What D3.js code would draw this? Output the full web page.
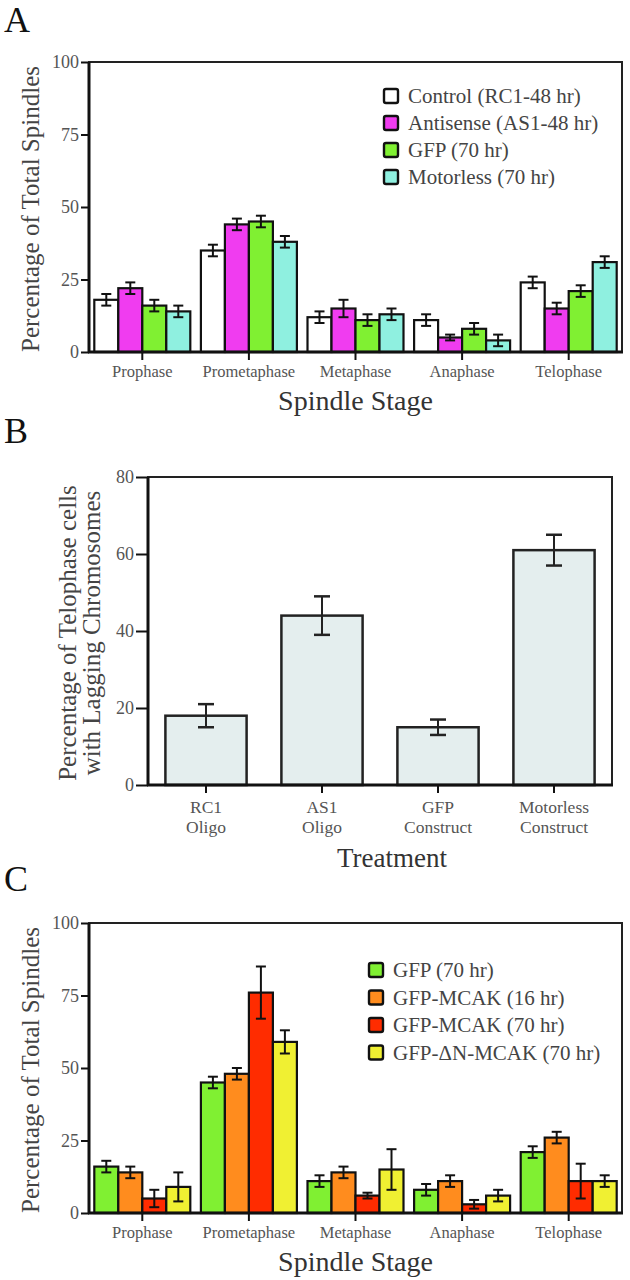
<!DOCTYPE html>
<html>
<head>
<meta charset="utf-8">
<script src="https://cdn.jsdelivr.net/npm/d3@7"></script>
<style>
  html, body { margin: 0; padding: 0; background: #fff; }
  svg { display: block; }
</style>
</head>
<body>
<svg id="chart" width="630" height="1280"></svg>
<script>
// ---------- DATA ----------
// Panel A
const stagesA = ["Prophase", "Prometaphase", "Metaphase", "Anaphase", "Telophase"];
const seriesA = ["Control (RC1-48 hr)", "Antisense (AS1-48 hr)", "GFP (70 hr)", "Motorless (70 hr)"];
const controlA = [18, 35, 12, 11, 24];
const controlErrA = [2, 2, 2, 2, 2];
const antisenseA = [22, 44, 15, 5, 15];
const antisenseErrA = [2, 2, 3, 1, 2];
const gfpA = [16, 45, 11, 8, 21];
const gfpErrA = [2, 2, 2, 2, 2];
const motorlessA = [14, 38, 13, 4, 31];
const motorlessErrA = [2, 2, 2, 2, 2];
const ticksA = [0, 25, 50, 75, 100];

// Panel B
const treatmentsB = [["RC1", "Oligo"], ["AS1", "Oligo"], ["GFP", "Construct"], ["Motorless", "Construct"]];
const valuesB = [18, 44, 15, 61];
const errorsB = [3, 5, 2, 4];
const ticksB = [0, 20, 40, 60, 80];

// Panel C
const stagesC = ["Prophase", "Prometaphase", "Metaphase", "Anaphase", "Telophase"];
const seriesC = ["GFP (70 hr)", "GFP-MCAK (16 hr)", "GFP-MCAK (70 hr)", "GFP-\u0394N-MCAK (70 hr)"];
const gfpC = [16, 45, 11, 8, 21];
const gfpErrC = [2, 2, 2, 2, 2];
const mcak16C = [14, 48, 14, 11, 26];
const mcak16ErrC = [2, 2, 2, 2, 2];
const mcak70C = [5, 76, 6, 3, 11];
const mcak70ErrC = [3, 9, 1, 1.5, 6];
const dnMcakC = [9, 59, 15, 6, 11];
const dnMcakErrC = [5, 4, 7, 2, 2];
const ticksC = [0, 25, 50, 75, 100];

// ---------- STYLE ----------
const colorsA = ["#ffffff", "#f03cf0", "#80f032", "#8ff0e0"];
const colorsC = ["#80f032", "#ff8c1e", "#ff2c00", "#f0f032"];
const fillB = "#e4eeee";
const FONT = "Liberation Serif";

const svg = d3.select("#chart");

function txt(sel) { return sel.style("font-family", FONT); }

function panelTitle(t, x, y) {
  txt(svg.append("text")).attr("x", x).attr("y", y)
    .attr("font-size", 36).style("fill", "#111").text(t);
}

function yAxis(g, y, ticks, x0, tickLen) {
  const ax = d3.axisLeft(y).tickValues(ticks).tickSize(tickLen).tickPadding(2).tickFormat(d3.format("d"));
  const gg = g.append("g").attr("transform", `translate(${x0},0)`).call(ax);
  gg.select(".domain").remove();
  gg.selectAll(".tick line").attr("stroke", "#111").attr("stroke-width", 2);
  txt(gg.selectAll(".tick text")).attr("font-size", 18).style("fill", "#555");
  return gg;
}

function frame(g, x0, x1, y0, y1) {
  g.append("rect").attr("x", x0).attr("y", y0).attr("width", x1 - x0).attr("height", y1 - y0)
    .attr("fill", "none").attr("stroke", "#222").attr("stroke-width", 2);
  g.append("line").attr("x1", x0).attr("x2", x0).attr("y1", y0).attr("y2", y1)
    .attr("stroke", "#111").attr("stroke-width", 3);
  g.append("line").attr("x1", x0 - 1).attr("x2", x1 + 1).attr("y1", y1).attr("y2", y1)
    .attr("stroke", "#111").attr("stroke-width", 3);
}

function groupedPanel(cfg) {
  const g = svg.append("g");
  const x = d3.scaleBand().domain(cfg.stages).range([cfg.x0, cfg.x1]).padding(0);
  const inner = d3.scaleBand().domain(d3.range(cfg.series.length)).range([0, 96]).padding(0);
  const y = d3.scaleLinear().domain([0, 100]).range([cfg.y1, cfg.y0]);

  yAxis(g, y, cfg.ticks, cfg.x0, 8);

  const off = (x.bandwidth() - 96) / 2;
  cfg.vals.forEach((arr, si) => {
    g.selectAll(null).data(cfg.stages).enter().append("rect")
      .attr("x", d => x(d) + off + inner(si))
      .attr("y", (d, i) => y(arr[i]))
      .attr("width", inner.bandwidth())
      .attr("height", (d, i) => y(0) - y(arr[i]))
      .attr("fill", cfg.colors[si]).attr("stroke", "#111").attr("stroke-width", 2.2);
  });
  cfg.vals.forEach((arr, si) => {
    const err = cfg.errs[si];
    cfg.stages.forEach((d, i) => {
      const cx = x(d) + off + inner(si) + inner.bandwidth() / 2;
      const top = y(arr[i] + err[i]);
      const bot = y(Math.max(0, arr[i] - err[i]));
      g.append("line").attr("x1", cx).attr("x2", cx).attr("y1", top).attr("y2", bot)
        .attr("stroke", "#111").attr("stroke-width", 2);
      [top, bot].forEach(yy => g.append("line").attr("x1", cx - 5).attr("x2", cx + 5)
        .attr("y1", yy).attr("y2", yy).attr("stroke", "#111").attr("stroke-width", 2));
    });
  });

  frame(g, cfg.x0, cfg.x1, cfg.y0, cfg.y1);

  const xa = d3.axisBottom(x).tickSize(8).tickPadding(5);
  const gx = g.append("g").attr("transform", `translate(0,${cfg.y1})`).call(xa);
  gx.select(".domain").remove();
  gx.selectAll(".tick line").attr("stroke", "#111").attr("stroke-width", 2);
  txt(gx.selectAll(".tick text")).attr("font-size", 16.5).style("fill", "#555");

  txt(g.append("text")).attr("x", (cfg.x0 + cfg.x1) / 2).attr("y", cfg.y1 + 58)
    .attr("text-anchor", "middle").attr("font-size", 28).style("fill", "#333").text("Spindle Stage");
  txt(g.append("text")).attr("transform", `translate(${cfg.ylabX},${(cfg.y0 + cfg.y1) / 2 + 2}) rotate(-90)`)
    .attr("text-anchor", "middle").attr("dominant-baseline", "central")
    .attr("font-size", 25).style("fill", "#444").text("Percentage of Total Spindles");

  const lg = g.append("g");
  cfg.series.forEach((s, i) => {
    const ly = cfg.legY + i * cfg.legStep;
    lg.append("rect").attr("x", cfg.legX).attr("y", ly - 7).attr("width", 14).attr("height", 14)
      .attr("rx", 2).attr("fill", cfg.colors[i]).attr("stroke", "#111").attr("stroke-width", 2.4);
    txt(lg.append("text")).attr("x", cfg.legX + 24).attr("y", ly).attr("dominant-baseline", "central")
      .attr("font-size", 21).style("fill", "#444").text(s);
  });
}

// ---------- PANEL A ----------
panelTitle("A", 4, 32);
groupedPanel({
  stages: stagesA, series: seriesA, colors: colorsA,
  vals: [controlA, antisenseA, gfpA, motorlessA],
  errs: [controlErrA, antisenseErrA, gfpErrA, motorlessErrA],
  ticks: ticksA, x0: 89, x1: 622, y0: 62, y1: 352, ylabX: 30,
  legX: 384, legY: 96, legStep: 27
});

// ---------- PANEL B ----------
panelTitle("B", 4, 443);
(function () {
  const g = svg.append("g");
  const x0 = 148, x1 = 612, y0 = 477, y1 = 785;
  const names = treatmentsB.map(d => d.join(" "));
  const x = d3.scaleBand().domain(names).range([x0, x1]).paddingInner(0.3).paddingOuter(0.15);
  const y = d3.scaleLinear().domain([0, 80]).range([y1, y0]);

  yAxis(g, y, ticksB, x0, 12);

  g.selectAll(null).data(names).enter().append("rect")
    .attr("x", d => x(d)).attr("y", (d, i) => y(valuesB[i]))
    .attr("width", x.bandwidth()).attr("height", (d, i) => y(0) - y(valuesB[i]))
    .attr("fill", fillB).attr("stroke", "#222").attr("stroke-width", 2.5);

  names.forEach((d, i) => {
    const cx = x(d) + x.bandwidth() / 2;
    const top = y(valuesB[i] + errorsB[i]), bot = y(valuesB[i] - errorsB[i]);
    g.append("line").attr("x1", cx).attr("x2", cx).attr("y1", top).attr("y2", bot)
      .attr("stroke", "#222").attr("stroke-width", 2);
    [top, bot].forEach(yy => g.append("line").attr("x1", cx - 8).attr("x2", cx + 8)
      .attr("y1", yy).attr("y2", yy).attr("stroke", "#222").attr("stroke-width", 2.5));
  });

  frame(g, x0, x1, y0, y1);

  const xa = d3.axisBottom(x).tickSize(8).tickFormat(() => "");
  const gx = g.append("g").attr("transform", `translate(0,${y1})`).call(xa);
  gx.select(".domain").remove();
  gx.selectAll(".tick line").attr("stroke", "#111").attr("stroke-width", 2);
  gx.selectAll(".tick").each(function (d, i) {
    const tk = d3.select(this);
    txt(tk.append("text")).attr("text-anchor", "middle").attr("x", 0).attr("y", 28)
      .attr("font-size", 17.5).style("fill", "#555").text(treatmentsB[i][0]);
    txt(tk.append("text")).attr("text-anchor", "middle").attr("x", 0).attr("y", 48)
      .attr("font-size", 17.5).style("fill", "#555").text(treatmentsB[i][1]);
  });

  txt(g.append("text")).attr("x", 392).attr("y", 867).attr("text-anchor", "middle")
    .attr("font-size", 27).style("fill", "#333").text("Treatment");
  const yl = txt(g.append("text")).attr("transform", `translate(80,${(y0 + y1) / 2 + 2}) rotate(-90)`)
    .attr("text-anchor", "middle").attr("font-size", 25).style("fill", "#444");
  yl.append("tspan").attr("x", 0).attr("y", -4).text("Percentage of Telophase cells");
  yl.append("tspan").attr("x", 0).attr("y", 20).text("with Lagging Chromosomes");
})();

// ---------- PANEL C ----------
panelTitle("C", 4, 891);
groupedPanel({
  stages: stagesC, series: seriesC, colors: colorsC,
  vals: [gfpC, mcak16C, mcak70C, dnMcakC],
  errs: [gfpErrC, mcak16ErrC, mcak70ErrC, dnMcakErrC],
  ticks: ticksC, x0: 89, x1: 622, y0: 923, y1: 1213, ylabX: 30,
  legX: 369, legY: 970, legStep: 27.5
});
</script>
</body>
</html>
